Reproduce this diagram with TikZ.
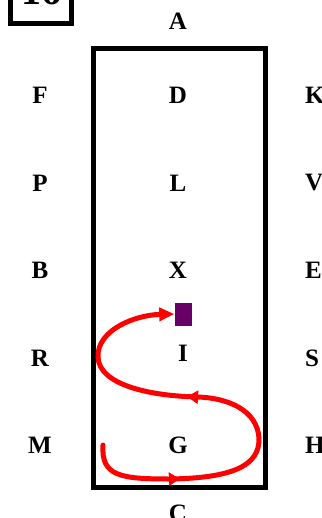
\documentclass[tikz,border=0pt]{standalone}
\usepackage{fontspec}
\setmainfont{Liberation Serif}
\usetikzlibrary{arrows.meta,decorations.markings}
\definecolor{sq}{HTML}{660066}
\begin{document}
\begin{tikzpicture}[x=1pt,y=-1pt,
  lbl/.style={font=\fontsize{25}{25}\selectfont\bfseries, inner sep=0pt},
  frame/.style={draw=black, line width=5pt},
  route/.style={draw=red, line width=5pt, line cap=round},
  tip/.style={-{Triangle[length=15pt,width=13pt]}}]
\useasboundingbox (0,0) rectangle (321,518);
\clip (0,0) rectangle (321,518);
\fill[white] (0,0) rectangle (321,518);
% top-left tag
\draw[frame] (10,-10) rectangle (71,24);
\node[font=\fontsize{40}{40}\selectfont\bfseries, anchor=base, inner sep=0pt] (tag) at (41,5) {16};
% main rectangle
\draw[frame] (93,49) rectangle (265,487);
% labels
\node[lbl] (A) at (178,21) {A};
\node[lbl] (D) at (178,95) {D};
\node[lbl] (L) at (178,183) {L};
\node[lbl] (X) at (178,270) {X};
\node[lbl] (I) at (183,353) {I};
\node[lbl] (G) at (178,445) {G};
\node[lbl] (C) at (178,513) {C};
\node[lbl] (F) at (40,95) {F};
\node[lbl] (P) at (40,183) {P};
\node[lbl] (B) at (40,270) {B};
\node[lbl] (R) at (40,358) {R};
\node[lbl] (M) at (40,445) {M};
\node[lbl, anchor=west] (K) at (305,95) {K};
\node[lbl, anchor=west] (V) at (305,183) {V};
\node[lbl, anchor=west] (E) at (305,270) {E};
\node[lbl, anchor=west] (S) at (305,358) {S};
\node[lbl, anchor=west] (H) at (305,445) {H};
% purple square
\node[fill=sq, minimum width=17pt, minimum height=23pt, inner sep=0pt] (sqr) at (183,314) {};
% red route
\coordinate (st) at (103,445);
\draw[route, postaction={decorate}, decoration={markings,
   mark=at position 0.20 with {\arrow{Triangle[length=11pt,width=13pt]}},
   mark=at position 0.59 with {\arrow{Triangle[length=11pt,width=13pt]}}},
   tip]
  (st) .. controls (101,476) and (120,479) .. (170,479)
  .. controls (232,478) and (260,466) .. (259,438)
  .. controls (257,410) and (228,398) .. (198,397)
  .. controls (150,396) and (99,385) .. (98,357)
  .. controls (97,330) and (135,315) .. (sqr.west);
\end{tikzpicture}
\end{document}
